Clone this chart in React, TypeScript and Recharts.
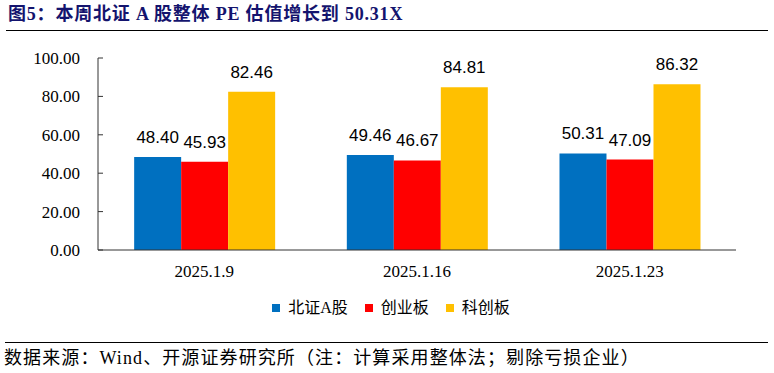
import React from 'react';
import { BarChart, Bar, XAxis, YAxis, LabelList, Legend } from 'recharts';

const categories = ['2025.1.9', '2025.1.16', '2025.1.23'];
const beizhengA = [48.4, 49.46, 50.31];
const chuangye = [45.93, 46.67, 47.09];
const kechuang = [82.46, 84.81, 86.32];
const yTicks = [0, 20, 40, 60, 80, 100];
const seriesKeys = ['bz', 'cy', 'kc'];
const seriesNames = ['北证A股', '创业板', '科创板'];
const seriesColors = ['#0070C0', '#FF0000', '#FFC000'];

const data = categories.map((c, i) => ({
  date: c,
  bz: beizhengA[i],
  cy: chuangye[i],
  kc: kechuang[i],
}));

const SERIF = "'Liberation Serif', 'Times New Roman', serif";
const CJK = "'Liberation Serif', 'Noto Sans CJK SC', sans-serif";
const AXIS = '#333333';

const LegendContent = () => (
  <div
    style={{
      display: 'flex',
      justifyContent: 'center',
      alignItems: 'center',
      paddingLeft: 8,
      height: 20,
      fontFamily: CJK,
      fontSize: 16,
      color: '#000',
    }}
  >
    {seriesNames.map((n, i) => (
      <div key={n} style={{ display: 'flex', alignItems: 'center', marginRight: i < 2 ? 17 : 0 }}>
        <span style={{ width: 8, height: 8, background: seriesColors[i], display: 'inline-block', marginRight: 8 }} />
        <span style={{ lineHeight: '20px' }}>{n}</span>
      </div>
    ))}
  </div>
);

export default function App() {
  return (
    <div style={{ position: 'absolute', left: 0, top: 0, width: 774, height: 373, background: '#fff', overflow: 'hidden' }}>
      <div
        style={{
          position: 'absolute',
          left: 8,
          top: 3,
          fontFamily: CJK,
          fontWeight: 'bold',
          fontSize: 18,
          lineHeight: '22px',
          letterSpacing: 0.8,
          color: '#14146E',
          whiteSpace: 'nowrap',
        }}
      >
        图5：本周北证 A 股整体 PE 估值增长到 50.31X
      </div>
      <div style={{ position: 'absolute', left: 6, top: 30, width: 762, borderTop: '1.5px solid #000' }} />
      <div style={{ position: 'absolute', left: 0, top: 0 }}>
        <BarChart
          width={774}
          height={373}
          data={data}
          margin={{ top: 58, right: 38, bottom: 93, left: 0 }}
          barGap={0}
          barCategoryGap="17%"
        >
          <XAxis
            dataKey="date"
            height={30}
            tickLine={false}
            tickSize={0}
            tickMargin={15}
            axisLine={{ stroke: AXIS, strokeWidth: 1 }}
            tick={{ fontSize: 17, fill: '#000', fontFamily: SERIF }}
          />
          <YAxis
            width={98}
            domain={[0, 100]}
            ticks={yTicks}
            interval={0}
            tickFormatter={(v: number) => v.toFixed(2)}
            tickSize={-5}
            tickMargin={23}
            axisLine={{ stroke: AXIS, strokeWidth: 1 }}
            tickLine={{ stroke: AXIS, strokeWidth: 1 }}
            tick={{ fontSize: 17, fill: '#000', fontFamily: SERIF }}
          />
          <Legend
            layout="horizontal"
            verticalAlign="middle"
            align="center"
            content={<LegendContent />}
            wrapperStyle={{ position: 'absolute', top: 298, left: 0, width: 774 }}
          />
          {seriesKeys.map((k, i) => (
            <Bar key={k} dataKey={k} name={seriesNames[i]} fill={seriesColors[i]} isAnimationActive={false}>
              <LabelList
                dataKey={k}
                position="top"
                offset={14}
                formatter={(v: number) => v.toFixed(2)}
                style={{ fontSize: 17, fontFamily: "'Liberation Sans', Arial, sans-serif", fill: '#000' }}
              />
            </Bar>
          ))}
        </BarChart>
      </div>
      <div style={{ position: 'absolute', left: 5, top: 342, width: 763, borderTop: '1px solid #000' }} />
      <div
        style={{
          position: 'absolute',
          left: 4,
          top: 348,
          fontFamily: CJK,
          fontSize: 18,
          lineHeight: '20px',
          letterSpacing: 1.1,
          color: '#000',
          whiteSpace: 'nowrap',
        }}
      >
        数据来源：Wind、开源证券研究所（注：计算采用整体法；剔除亏损企业）
      </div>
    </div>
  );
}
